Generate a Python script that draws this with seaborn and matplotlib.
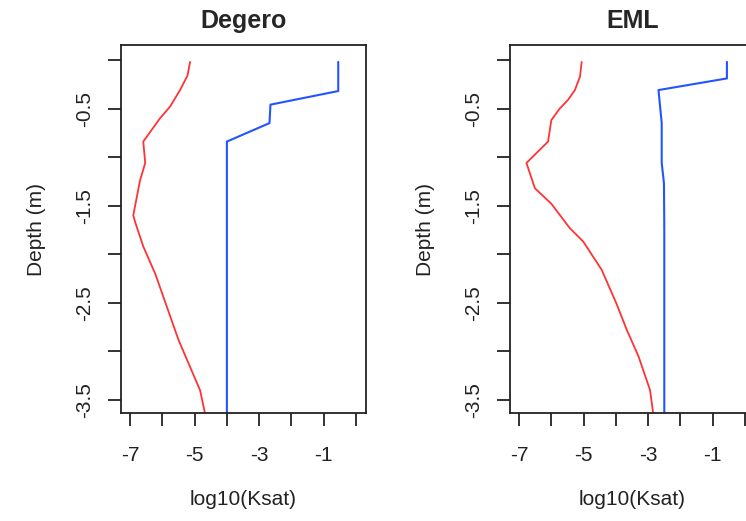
import matplotlib
matplotlib.use("Agg")
import matplotlib.pyplot as plt
import seaborn as sns

# ---- data ----
deg_red_x = [-5.14, -5.22, -5.45, -5.76, -6.07, -6.33, -6.59, -6.53, -6.69, -6.79, -6.90, -6.84,
             -6.59, -6.22, -5.86, -5.50, -5.14, -4.83, -4.67]
deg_red_d = [-0.02, -0.16, -0.31, -0.48, -0.60, -0.72, -0.84, -1.06, -1.24, -1.41, -1.60, -1.67,
             -1.92, -2.20, -2.54, -2.88, -3.16, -3.40, -3.65]
deg_blue_x = [-0.55, -0.55, -2.65, -2.68, -4.00, -4.00]
deg_blue_d = [-0.02, -0.32, -0.46, -0.65, -0.84, -3.65]

eml_red_x = [-5.06, -5.11, -5.27, -5.48, -5.74, -6.00, -6.10, -6.77, -6.51, -6.00, -5.43,
             -5.01, -4.44, -3.98, -3.66, -3.30, -2.94, -2.84]
eml_red_d = [-0.02, -0.17, -0.31, -0.41, -0.50, -0.62, -0.84, -1.06, -1.32, -1.48, -1.73,
             -1.87, -2.16, -2.51, -2.78, -3.05, -3.40, -3.65]
eml_blue_x = [-0.56, -0.56, -2.68, -2.63, -2.58, -2.58, -2.51, -2.50, -2.50]
eml_blue_d = [-0.02, -0.19, -0.31, -0.48, -0.65, -1.06, -1.27, -1.75, -3.65]

titles = ["Degero", "EML"]
x_ticks = [-7, -6, -5, -4, -3, -2, -1, 0]
x_labels = ["-7", "", "-5", "", "-3", "", "-1", ""]
y_ticks = [0, -0.5, -1, -1.5, -2, -2.5, -3, -3.5]
y_labels = ["", "-0.5", "", "-1.5", "", "-2.5", "", "-3.5"]

sns.set_style("white")
plt.rcParams["font.family"] = ["Liberation Sans", "DejaVu Sans"]
plt.rcParams["axes.unicode_minus"] = False

fig = plt.figure(figsize=(7.46, 5.21), dpi=100)
positions = [[121/746, 1-413/521, 245/746, 368/521],
             [510/746, 1-413/521, 245/746, 368/521]]

panels = [(deg_red_x, deg_red_d, deg_blue_x, deg_blue_d),
          (eml_red_x, eml_red_d, eml_blue_x, eml_blue_d)]

for pos, title, (rx, rd, bx, bd) in zip(positions, titles, panels):
    ax = fig.add_axes(pos)
    sns.lineplot(x=rx, y=rd, sort=False, estimator=None, color="#ff3333", lw=1.3, ax=ax)
    sns.lineplot(x=bx, y=bd, sort=False, estimator=None, color="#2255ff", lw=1.5, ax=ax)
    ax.set_xlim(-7.28, 0.31)
    ax.set_ylim(-3.634, 0.154)
    ax.set_xticks(x_ticks)
    ax.set_xticklabels(x_labels, fontsize=15)
    ax.set_yticks(y_ticks)
    ax.set_yticklabels(y_labels, fontsize=15, rotation=90, va="center")
    ax.tick_params(axis="both", direction="out", length=9.5, width=1.3, color="#222222",
                   colors="#222222", bottom=True, left=True)
    ax.tick_params(axis="x", pad=14)
    ax.tick_params(axis="y", pad=10)
    for s in ax.spines.values():
        s.set_visible(True)
        s.set_color("#222222")
        s.set_linewidth(1.3)
    ax.set_title(title, fontsize=18, fontweight="bold", pad=12)
    ax.set_xlabel("log10(Ksat)", fontsize=15, labelpad=18, color="#222222")
    ax.set_ylabel("Depth (m)", fontsize=15, labelpad=21, color="#222222")

fig.savefig("out.png", dpi=100)
